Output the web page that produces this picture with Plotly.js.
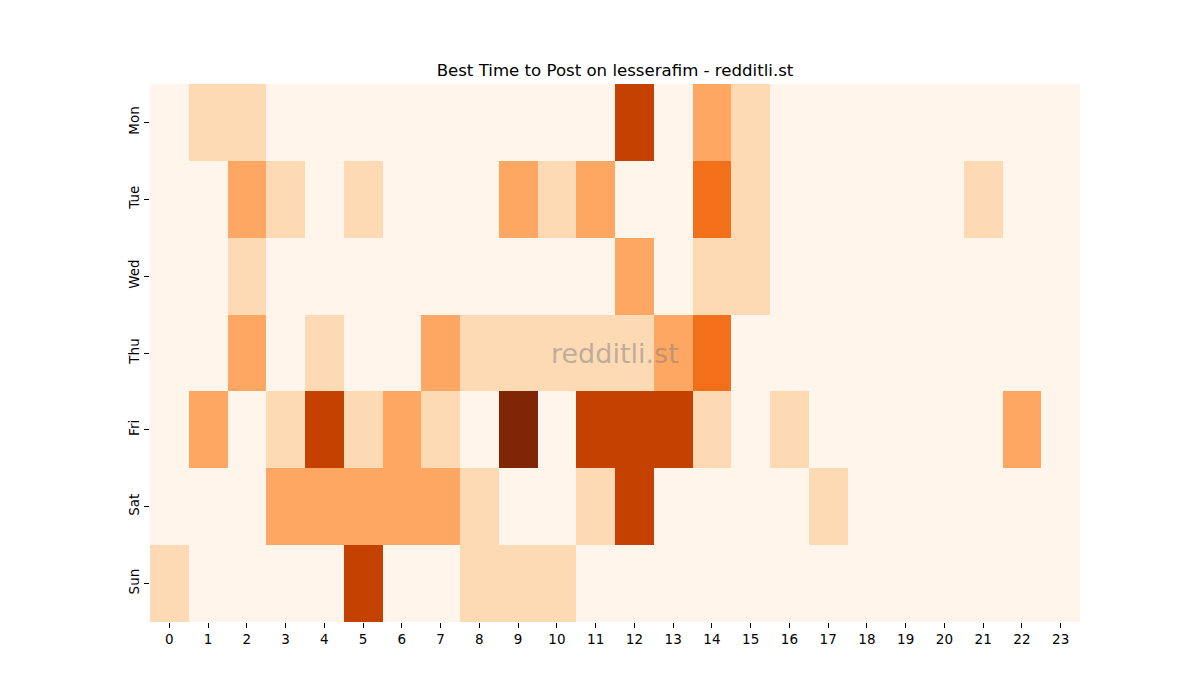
<!DOCTYPE html>
<html>
<head>
<meta charset="utf-8">
<script src="https://cdn.plot.ly/plotly-3.0.1.min.js"></script>
<style>html,body{margin:0;padding:0;background:#fff}#chart{width:1200px;height:700px}</style>
</head>
<body>
<div id="chart"></div>
<script>
  // posting activity level per day (rows) and hour (columns)
  var days = ["Mon", "Tue", "Wed", "Thu", "Fri", "Sat", "Sun"];
  var hours = [0,1,2,3,4,5,6,7,8,9,10,11,12,13,14,15,16,17,18,19,20,21,22,23];
  var mon = [0,1,1,0,0,0,0,0,0,0,0,0,4,0,2,1,0,0,0,0,0,0,0,0];
  var tue = [0,0,2,1,0,1,0,0,0,2,1,2,0,0,3,1,0,0,0,0,0,1,0,0];
  var wed = [0,0,1,0,0,0,0,0,0,0,0,0,2,0,1,1,0,0,0,0,0,0,0,0];
  var thu = [0,0,2,0,1,0,0,2,1,1,1,1,1,2,3,0,0,0,0,0,0,0,0,0];
  var fri = [0,2,0,1,4,1,2,1,0,5,0,4,4,4,1,0,1,0,0,0,0,0,2,0];
  var sat = [0,0,0,2,2,2,2,2,1,0,0,1,4,0,0,0,0,1,0,0,0,0,0,0];
  var sun = [1,0,0,0,0,4,0,0,1,1,1,0,0,0,0,0,0,0,0,0,0,0,0,0];

  var oranges = [
    [0, "#fff5eb"], [0.125, "#fee6ce"], [0.25, "#fdd0a2"], [0.375, "#fdae6b"],
    [0.5, "#fd8d3c"], [0.625, "#f16913"], [0.75, "#d94801"], [0.875, "#a63603"], [1, "#7f2704"]
  ];

  var font = "DejaVu Sans, sans-serif";
  var trace = {
    type: "heatmap", x: hours, y: days,
    z: [mon, tue, wed, thu, fri, sat, sun],
    zmin: 0, zmax: 5, colorscale: oranges, showscale: false,
    xgap: 0, ygap: 0,
    hovertemplate: "%{y} %{x}h: %{z}<extra></extra>"
  };

  var layout = {
    width: 1200, height: 700,
    paper_bgcolor: "#ffffff", plot_bgcolor: "#ffffff",
    margin: { l: 150, r: 120, t: 84, b: 78 },
    font: { family: font, color: "#000", size: 13.5 },
    title: { text: "Best Time to Post on lesserafim - redditli.st", x: 0.5125, xanchor: "center", y: 0.9, yanchor: "middle", font: { size: 16.6, family: font, color: "#000" } },
    xaxis: {
      range: [-0.5, 23.5], tickmode: "array", tickvals: hours, ticktext: hours.map(String),
      ticks: "outside", ticklen: 5, tickcolor: "#000", showgrid: false, zeroline: false, showline: false,
      tickfont: { size: 13.5 }
    },
    yaxis: {
      type: "category", autorange: "reversed", tickangle: -90,
      ticks: "outside", ticklen: 5, tickcolor: "#000", showgrid: false, zeroline: false, showline: false,
      tickfont: { size: 13.5 }
    },
    annotations: [{
      text: "redditli.st", xref: "paper", yref: "paper", x: 0.5, y: 0.5, xanchor: "center", yanchor: "middle",
      showarrow: false, font: { size: 27, family: font, color: "rgba(128,128,128,0.5)" }
    }]
  };

  Plotly.newPlot("chart", [trace], layout, { displayModeBar: false, staticPlot: true });
</script>
</body>
</html>
